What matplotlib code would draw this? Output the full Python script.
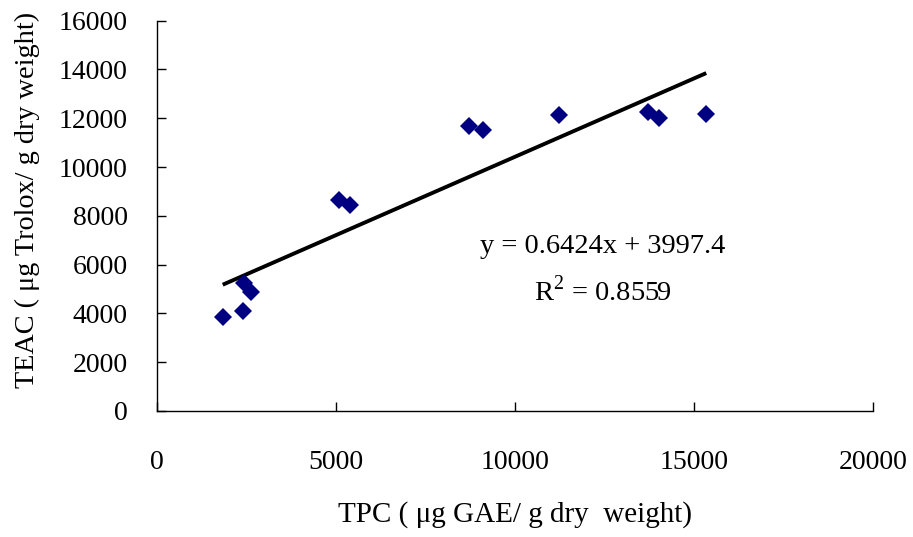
import matplotlib
matplotlib.use("Agg")
import matplotlib.pyplot as plt
import numpy as np

# TPC vs TEAC
tpc = [1836, 2395, 2440, 2618, 5094, 5393, 8727, 9118, 11225, 13729, 14009, 15342]
teac = [3866, 4112, 5260, 4867, 8651, 8446, 11685, 11521, 12136, 12271, 12001, 12165]

slope, intercept = 0.6424, 3997.4
eq_text = "y = 0.6424x + 3997.4"
r2_text = "R$^2$ = 0.8559"

x_ticks = [0, 5000, 10000, 15000, 20000]
y_ticks = [0, 2000, 4000, 6000, 8000, 10000, 12000, 14000, 16000]

plt.rcParams["font.family"] = ["Liberation Serif", "DejaVu Serif"]
plt.rcParams["mathtext.fontset"] = "custom"
plt.rcParams["mathtext.rm"] = "Liberation Serif"

W, H = 913, 537
fig = plt.figure(figsize=(W / 100, H / 100), dpi=100)
ax = fig.add_axes([157 / W, 1 - 411 / H, (873 - 157) / W, (411 - 20.7) / H])

ax.plot(tpc, teac, "D", color="#000080", markersize=9, markeredgewidth=0, zorder=3)

xl = np.array([min(tpc), max(tpc)])
ax.plot(xl, slope * xl + intercept, color="black", lw=2.8, solid_capstyle="butt", zorder=2)

ax.set_xlim(0, 20000)
ax.set_ylim(0, 16000)
ax.set_xticks(x_ticks)
ax.set_yticks(y_ticks)
ax.spines["top"].set_visible(False)
ax.spines["right"].set_visible(False)
for s in ("left", "bottom"):
    ax.spines[s].set_linewidth(1.0)
ax.tick_params(axis="y", direction="in", length=6.5, width=1, pad=21, labelsize=20)
ax.tick_params(axis="x", direction="in", length=6.5, width=1, pad=28, labelsize=20)

ax.text(603 / W, 1 - 246 / H, eq_text, transform=fig.transFigure,
        ha="center", va="center", fontsize=20.5)
ax.text(603 / W, 1 - 291 / H, r2_text, transform=fig.transFigure,
        ha="center", va="center", fontsize=20.5)

fig.text(515 / W, 1 - 515 / H, "TPC ( \u03bcg GAE/ g dry  weight)",
         ha="center", va="center", fontsize=21)
fig.text(27 / W, 1 - 388 / H, "TEAC ( \u03bcg Trolox/ g dry weight)",
         ha="center", va="bottom", rotation=90, fontsize=20.3)

fig.savefig("out.png", dpi=100)
